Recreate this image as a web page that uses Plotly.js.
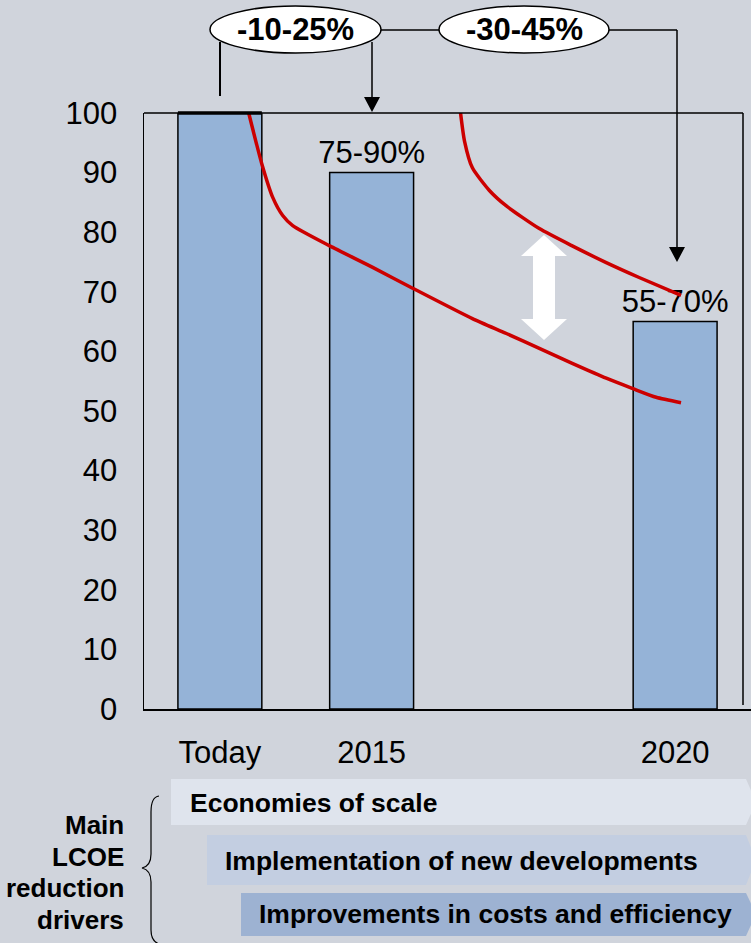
<!DOCTYPE html>
<html>
<head>
<meta charset="utf-8">
<script src="https://cdn.plot.ly/plotly-3.0.1.min.js"></script>
<style>
  html, body { margin: 0; padding: 0; background: #d0d4dc; }
  #chart { width: 751px; height: 943px; }
</style>
</head>
<body>
<div id="chart"></div>
<script>
// ---- data ----
const categories = ['Today', '2015', '2020'];
const positions = [0, 1, 3];
const values = [100, 90, 65];
const valueLabels = ['', '75-90%', '55-70%'];
const yTicks = [0, 10, 20, 30, 40, 50, 60, 70, 80, 90, 100];

const lowerCurveX = [0.19, 0.276, 0.349, 0.414, 0.48, 0.724, 1.007, 1.27, 1.664, 1.888, 2.105, 2.322, 2.546, 2.717, 2.875, 3.039];
const lowerCurveY = [100, 91.5, 85.8, 82.8, 81.1, 77.7, 74.1, 70.6, 65.5, 63.0, 60.5, 58.0, 55.5, 53.8, 52.3, 51.4];
const upperCurveX = [1.586, 1.612, 1.664, 1.776, 1.888, 2.105, 2.322, 2.546, 2.763, 3.039];
const upperCurveY = [100, 95.3, 90.8, 87.0, 84.4, 80.6, 77.7, 74.9, 72.4, 69.4];

const reductionLabels = ['-10-25%', '-30-45%'];
const driverLabels = ['Economies of scale', 'Implementation of new developments', 'Improvements in costs and efficiency'];
const driverTitle = ['Main', 'LCOE', 'reduction', 'drivers'];

// ---- layout helpers (pixel -> paper) ----
const W = 751, H = 943;
const M = { l: 144, r: 0, t: 113, b: 234 };
const PW = W - M.l - M.r, PH = H - M.t - M.b;
const X = px => (px - M.l) / PW;
const Y = py => (H - M.b - py) / PH;
const FONT = 'Liberation Sans, Arial, sans-serif';
const BG = '#d0d4dc';
const BAR_W = 0.553;

const traces = [
  {
    type: 'bar', x: positions, y: values, width: BAR_W,
    marker: { color: '#95b3d7', line: { color: '#000', width: 1.5 } },
    text: valueLabels, textposition: 'outside', cliponaxis: false, constraintext: 'none',
    textfont: { family: FONT, size: 31, color: '#000' },
    hoverinfo: 'skip', showlegend: false
  },
  {
    type: 'scatter', mode: 'lines', x: lowerCurveX, y: lowerCurveY, cliponaxis: false,
    line: { color: '#cc0000', width: 3.5, shape: 'spline', smoothing: 0.6 },
    hoverinfo: 'skip', showlegend: false
  },
  {
    type: 'scatter', mode: 'lines', x: upperCurveX, y: upperCurveY, cliponaxis: false,
    line: { color: '#cc0000', width: 3.5, shape: 'spline', smoothing: 0.6 },
    hoverinfo: 'skip', showlegend: false
  }
];

function pathP(pts, close) {
  return pts.map((p, i) => (i ? 'L' : 'M') + X(p[0]) + ',' + Y(p[1])).join(' ') + (close ? ' Z' : '');
}
function lineP(x0, y0, x1, y1, w) {
  return { type: 'line', xref: 'paper', yref: 'paper', x0: X(x0), y0: Y(y0), x1: X(x1), y1: Y(y1),
           line: { color: '#000', width: w || 1.5 } };
}
function polyP(pts, fill, lc, lw) {
  return { type: 'path', xref: 'paper', yref: 'paper', path: pathP(pts, true),
           fillcolor: fill, line: { color: lc || fill, width: lw === undefined ? 0 : lw } };
}

const shapes = [];
// frame: top + right side
shapes.push(lineP(144, 113, 743, 113, 1.5));
shapes.push(lineP(743, 113, 743, 705, 1.5));
// thick top on Today bar
shapes.push({ type: 'line', xref: 'x', yref: 'paper', x0: positions[0] - BAR_W / 2, x1: positions[0] + BAR_W / 2,
              y0: 1, y1: 1, line: { color: '#000', width: 3.5 } });
// top connectors
shapes.push(lineP(220, 42, 220, 96, 2));
shapes.push(lineP(372, 42, 372, 98, 1.5));
shapes.push(polyP([[364, 97], [380, 97], [372, 112]], '#000'));
shapes.push(lineP(381, 30, 439, 30, 1.5));
shapes.push(lineP(609, 30, 677, 30, 1.5));
shapes.push(lineP(677, 30, 677, 248, 1.5));
shapes.push(polyP([[669, 247], [685, 247], [677, 262]], '#000'));
// ellipses
shapes.push({ type: 'circle', xref: 'paper', yref: 'paper', x0: X(210), x1: X(381), y0: Y(6), y1: Y(53),
              fillcolor: '#fff', line: { color: '#000', width: 1.5 } });
shapes.push({ type: 'circle', xref: 'paper', yref: 'paper', x0: X(439), x1: X(609), y0: Y(6), y1: Y(53),
              fillcolor: '#fff', line: { color: '#000', width: 1.5 } });
// white double arrow
shapes.push(polyP([[544, 235], [567, 256], [555, 256], [555, 319], [567, 319], [544, 340],
                   [521, 319], [533, 319], [533, 256], [521, 256]], '#ffffff'));
// driver banners
shapes.push(polyP([[171, 779], [746, 779], [756, 802], [746, 825], [171, 825]], '#dfe4ed'));
shapes.push(polyP([[207, 835], [746, 835], [756, 860], [746, 885], [207, 885]], '#c3cee1'));
shapes.push(polyP([[241, 893], [746, 893], [756, 914], [746, 936], [241, 936]], '#9db2d2'));
// brace
shapes.push({ type: 'path', xref: 'paper', yref: 'paper',
  path: 'M' + X(159) + ',' + Y(796) + ' Q' + X(151) + ',' + Y(797) + ' ' + X(151) + ',' + Y(812) +
        ' L' + X(151) + ',' + Y(854) + ' Q' + X(151) + ',' + Y(866) + ' ' + X(142) + ',' + Y(868) +
        ' Q' + X(151) + ',' + Y(870) + ' ' + X(151) + ',' + Y(882) +
        ' L' + X(151) + ',' + Y(930) + ' Q' + X(151) + ',' + Y(941) + ' ' + X(159) + ',' + Y(944),
  line: { color: '#000', width: 1.2 } });

const annotations = [];
const ellCenters = [[295, 30], [524, 30]];
reductionLabels.forEach((t, i) => annotations.push({
  xref: 'paper', yref: 'paper', x: X(ellCenters[i][0]), y: Y(ellCenters[i][1]), text: '<b>' + t + '</b>',
  showarrow: false, xanchor: 'center', yanchor: 'middle', font: { family: FONT, size: 31, color: '#000' }
}));
const driverPos = [[188, 803], [223, 861], [257, 914]];
driverLabels.forEach((t, i) => annotations.push({
  xref: 'paper', yref: 'paper', x: X(driverPos[i][0]), y: Y(driverPos[i][1]), text: '<b>' + t + '</b>',
  showarrow: false, xanchor: 'left', yanchor: 'middle', font: { family: FONT, size: 26.5, color: '#000' }
}));
const titleY = [825, 857, 888, 920];
driverTitle.forEach((t, i) => annotations.push({
  xref: 'paper', yref: 'paper', x: X(126), y: Y(titleY[i]), text: '<b>' + t + '</b>',
  showarrow: false, xanchor: 'right', yanchor: 'middle', font: { family: FONT, size: 26, color: '#000' }
}));

const layout = {
  width: W, height: H,
  margin: M,
  paper_bgcolor: BG, plot_bgcolor: BG,
  showlegend: false,
  font: { family: FONT, color: '#000' },
  xaxis: {
    range: [-0.5, 3.5], tickmode: 'array', tickvals: positions, ticktext: categories,
    showgrid: false, zeroline: false, showline: true, linecolor: '#000', linewidth: 2,
    ticks: '', ticklabelstandoff: 15, tickfont: { family: FONT, size: 31, color: '#000' },
    fixedrange: true
  },
  yaxis: {
    range: [0, 100], tickmode: 'array', tickvals: yTicks,
    showgrid: false, zeroline: false, showline: true, linecolor: '#000', linewidth: 1.5,
    ticks: '', ticklabelstandoff: 19, tickfont: { family: FONT, size: 31, color: '#000' },
    fixedrange: true
  },
  shapes: shapes,
  annotations: annotations
};

Plotly.newPlot('chart', traces, layout, { displayModeBar: false, staticPlot: true });
</script>
</body>
</html>
